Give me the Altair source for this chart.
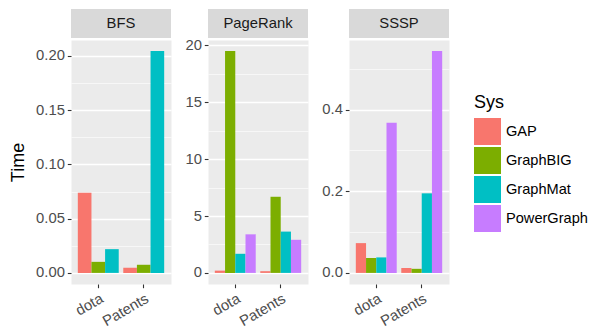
import json
import altair as alt
import pandas as pd

datasets = ["dota", "Patents"]
systems = ["GAP", "GraphBIG", "GraphMat", "PowerGraph"]
colors = ["#F8766D", "#7CAE00", "#00BFC4", "#C77CFF"]

# BFS (no PowerGraph)
bfs_gap = [0.0739, 0.0048]
bfs_graphbig = [0.0102, 0.0075]
bfs_graphmat = [0.0219, 0.2045]

# PageRank
pr_gap = [0.20, 0.15]
pr_graphbig = [19.49, 6.69]
pr_graphmat = [1.68, 3.63]
pr_powergraph = [3.39, 2.91]

# SSSP
sssp_gap = [0.073, 0.012]
sssp_graphbig = [0.0366, 0.010]
sssp_graphmat = [0.038, 0.195]
sssp_powergraph = [0.368, 0.5436]

bfs_ticks = [0.0, 0.05, 0.10, 0.15, 0.20]
pr_ticks = [0, 5, 10, 15, 20]
sssp_ticks = [0.0, 0.2, 0.4]

FONT = "Liberation Sans"
W, H = 100, 244
LBL = 14.8
TTL = 18


def panel(name, series, major, fmt, first):
    rows = []
    for sys_name, vals in series:
        for d, v in zip(datasets, vals):
            rows.append({"Algo": name, "Sys": sys_name, "Dataset": d, "Time": v})
    df = pd.DataFrame(rows)
    vmax = float(df["Time"].max())
    dom = [-0.05 * vmax, 1.05 * vmax]
    step = major[1] - major[0]
    minor = [round(m + step / 2, 6) for m in major]
    minor = [m for m in minor if dom[0] <= m <= dom[1]]
    values = sorted(major + minor)
    test = "indexof(%s, datum.value) >= 0" % json.dumps(minor)

    yaxis = alt.Axis(
        values=values,
        format=fmt,
        labelExpr="(%s) ? '' : datum.label" % test,
        labelOverlap=False,
        labelFlush=False,
        gridColor="white",
        gridWidth={"condition": {"test": test, "value": 0.6}, "value": 1.3},
        tickOpacity={"condition": {"test": test, "value": 0}, "value": 1},
        title="Time" if first else None,
    )
    bars = alt.Chart(df).mark_bar().encode(
        x=alt.X(
            "Dataset:N",
            sort=datasets,
            scale=alt.Scale(paddingInner=0.1, paddingOuter=0.15),
            axis=alt.Axis(
                title=None,
                labelAngle=-30,
                labelAlign="right",
                labelBaseline="top",
                gridColor="white",
                gridWidth=1.3,
            ),
        ),
        xOffset=alt.XOffset(
            "Sys:N", sort=systems, scale=alt.Scale(paddingInner=0, paddingOuter=0)
        ),
        y=alt.Y(
            "Time:Q",
            scale=alt.Scale(domain=dom, nice=False, zero=False),
            axis=yaxis,
        ),
        y2=alt.datum(0),
        color=alt.Color(
            "Sys:N",
            scale=alt.Scale(domain=systems, range=colors),
            legend=alt.Legend(
                title="Sys",
                orient="none",
                legendX=403,
                legendY=54,
                padding=0,
                symbolType="square",
                symbolSize=729,
                symbolStrokeWidth=0,
                rowPadding=2,
                labelOffset=5,
                titlePadding=6,
                titleFontSize=TTL,
                titleFontWeight="normal",
                titleFont=FONT,
                titleColor="black",
                labelFontSize=14.6,
                labelFont=FONT,
                labelColor="black",
            ),
        ),
    )
    lab = pd.DataFrame({"Algo": [name]})
    strip_bg = alt.Chart(lab).mark_rect(color="#D9D9D9").encode(
        x=alt.value(0), x2=alt.value(W), y=alt.value(-31), y2=alt.value(-2)
    )
    strip_txt = alt.Chart(lab).mark_text(
        fontSize=LBL, font=FONT, color="#1A1A1A", baseline="middle"
    ).encode(text="Algo:N", x=alt.value(W / 2), y=alt.value(-16))
    return alt.layer(bars, strip_bg, strip_txt).properties(width=W, height=H)


p1 = panel(
    "BFS",
    [("GAP", bfs_gap), ("GraphBIG", bfs_graphbig), ("GraphMat", bfs_graphmat)],
    bfs_ticks, ".2f", True,
)
p2 = panel(
    "PageRank",
    [("GAP", pr_gap), ("GraphBIG", pr_graphbig), ("GraphMat", pr_graphmat),
     ("PowerGraph", pr_powergraph)],
    pr_ticks, "d", False,
)
p3 = panel(
    "SSSP",
    [("GAP", sssp_gap), ("GraphBIG", sssp_graphbig), ("GraphMat", sssp_graphmat),
     ("PowerGraph", sssp_powergraph)],
    sssp_ticks, ".1f", False,
)

chart = (
    alt.hconcat(p1, p2, p3, spacing=12)
    .resolve_scale(y="independent", x="independent", xOffset="independent", color="shared")
    .properties(padding={"left": 0, "top": 0, "right": 0, "bottom": -1})
    .configure_view(fill="#EBEBEB", stroke="transparent")
    .configure_axis(
        domain=False,
        tickColor="#333333",
        tickSize=3.7,
        tickWidth=1.1,
        labelPadding=2.9,
        labelColor="#4D4D4D",
        labelFontSize=LBL,
        labelFont=FONT,
        titleFont=FONT,
        titleFontSize=TTL,
        titleFontWeight="normal",
        titleColor="black",
        titlePadding=8.6,
    )
)

chart.save("out.html", embed_options={"renderer": "svg", "actions": False})
